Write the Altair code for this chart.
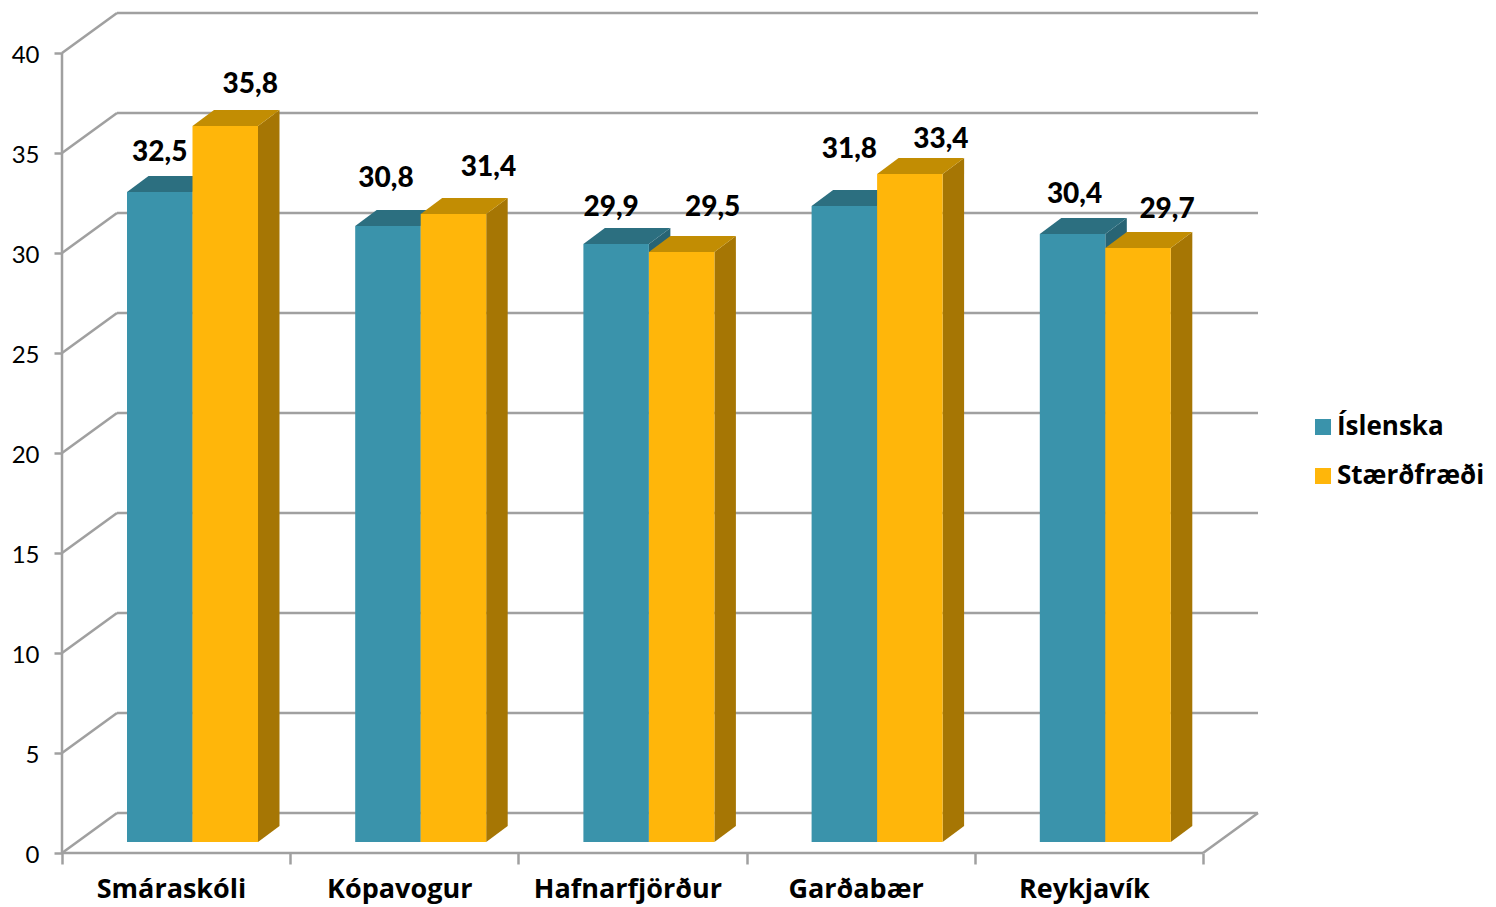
import json
import altair as alt
import pandas as pd

categories = ["Smáraskóli", "Kópavogur", "Hafnarfjörður", "Garðabær", "Reykjavík"]
series = ["Íslenska", "Stærðfræði"]
islenska = [32.5, 30.8, 29.9, 31.8, 30.4]
staerdfraedi = [35.8, 31.4, 29.5, 33.4, 29.7]
y_ticks = [0, 5, 10, 15, 20, 25, 30, 35, 40]

FONT = "Lato"
HEAD_FONT = "Open Sans"
GRID = "#A0A0A0"
FRONT = ["#3A93AB", "#FFB60A"]
TOP = ["#2C6F80", "#C28D03"]
SIDE = ["#286474", "#A67604"]

# 3-D projection, in axis units
PX_X = 228.2
PX_Y = 19.98
WALL_X = 55 / PX_X
WALL_Y = 40 / PX_Y
BAR_X0 = 65 / PX_X
BAR_W = 65.5 / PX_X
BASE_Y = 11 / PX_Y
DEPTH_X = 21.5 / PX_X
DEPTH_Y = 16 / PX_Y
N = len(categories)

# hand placement of the data labels relative to the top of their bar (px)
label_nudge_x = [[0, 25], [-2, 35], [-5, 31], [5, 31], [2, 29]]
label_nudge_y = [[39, 41], [47, 46], [36, 44], [56, 34], [39, 38]]

xs = alt.Scale(domain=[0, N + WALL_X], nice=False, zero=False)
ys = alt.Scale(domain=[0, 40 + WALL_Y], nice=False, zero=False)

label_expr = "(" + json.dumps(categories, ensure_ascii=False) + ")[datum.value] || ''"
x_axis = alt.Axis(
    title=None, values=list(range(N + 1)), grid=False, domain=False, tickColor=GRID, tickWidth=2.5,
    tickSize=11, labelExpr=label_expr, labelFont=HEAD_FONT, labelFontWeight="bold",
    labelFontSize=27, labelColor="#000000", labelOffset=109, labelPadding=12,
    labelOverlap=False, labelBound=False, labelFlush=False, labelLimit=400, labelAlign="center")
y_axis = alt.Axis(
    title=None, values=y_ticks, grid=False, domain=False, tickColor=GRID, tickWidth=2.5, tickSize=8,
    labelFont=FONT, labelFontSize=24, labelColor="#000000", labelPadding=15, labelOffset=2,
    labelOverlap=False, labelBound=False, labelFlush=False)

X = lambda f, **k: alt.X(f, type="quantitative", scale=xs, axis=x_axis, **k)
Y = lambda f, **k: alt.Y(f, type="quantitative", scale=ys, axis=y_axis, stack=None, **k)

# frame
back = pd.DataFrame({"x": [WALL_X] * len(y_ticks), "x2": [N + WALL_X] * len(y_ticks),
                     "y": [v + WALL_Y for v in y_ticks]})
diag = pd.DataFrame({"x": [0] * len(y_ticks), "x2": [WALL_X] * len(y_ticks),
                     "y": y_ticks, "y2": [v + WALL_Y for v in y_ticks]})
floor = pd.DataFrame({"x": [0, N, 0], "x2": [N, N + WALL_X, 0],
                      "y": [0, 0, 0], "y2": [0, WALL_Y, 40]})

rule = dict(color=GRID, strokeWidth=2.5)
layers = [
    alt.Chart(back).mark_rule(**rule).encode(x=X("x"), x2="x2:Q", y=Y("y")),
    alt.Chart(diag).mark_rule(**rule).encode(x=X("x"), x2="x2:Q", y=Y("y"), y2="y2:Q"),
    alt.Chart(floor).mark_rule(**rule).encode(x=X("x"), x2="x2:Q", y=Y("y"), y2="y2:Q"),
]

label_rows = []
for s, (name, values) in enumerate(zip(series, [islenska, staerdfraedi])):
    side_rows, top_rows, front_rows = [], [], []
    for c, v in enumerate(values):
        left = c + BAR_X0 + s * BAR_W
        right = left + BAR_W
        top = v + BASE_Y
        for t in (0, 1):
            side_rows.append({"c": c, "x": right + t * DEPTH_X,
                              "y": top + t * DEPTH_Y, "y2": BASE_Y + t * DEPTH_Y})
            top_rows.append({"c": c, "x": left + t * DEPTH_X, "x2": right + t * DEPTH_X,
                             "y": top + t * DEPTH_Y})
        front_rows.append({"x": left, "x2": right, "y": top, "y2": BASE_Y, "Greinar": name})
        label_rows.append({"x": (left + right) / 2 + label_nudge_x[c][s] / PX_X,
                           "y": top + label_nudge_y[c][s] / PX_Y,
                           "t": f"{v:.1f}".replace(".", ",")})
    layers += [
        alt.Chart(pd.DataFrame(side_rows)).mark_area(color=SIDE[s]).encode(
            x=X("x"), y=Y("y"), y2="y2:Q", detail="c:N"),
        alt.Chart(pd.DataFrame(top_rows)).mark_area(color=TOP[s], orient="horizontal").encode(
            y=Y("y"), x=X("x"), x2="x2:Q", detail="c:N"),
        alt.Chart(pd.DataFrame(front_rows)).mark_rect().encode(
            x=X("x"), x2="x2:Q", y=Y("y"), y2="y2:Q",
            color=alt.Color("Greinar:N", scale=alt.Scale(domain=series, range=FRONT),
                            legend=alt.Legend(
                                title=None, orient="none", legendX=1248, legendY=401,
                                symbolType="square", symbolSize=256, symbolStrokeWidth=0,
                                labelFont=HEAD_FONT, labelFontWeight="bold", labelFontSize=26,
                                labelColor="#000000", labelLimit=300, rowPadding=23,
                                labelOffset=1))),
    ]

layers.append(
    alt.Chart(pd.DataFrame(label_rows)).mark_text(
        font=FONT, fontWeight=900, fontSize=28, color="#000000", baseline="middle", align="center"
    ).encode(x=X("x"), y=Y("y"), text="t:N")
)

chart = alt.layer(*layers).properties(
    width=1196, height=840,
    autosize=alt.AutoSizeParams(type="none"),
    padding={"left": 54, "top": 5, "right": 230, "bottom": 54},
).configure_view(stroke=None)

chart.save("out.html", embed_options={"renderer": "svg", "actions": False})
